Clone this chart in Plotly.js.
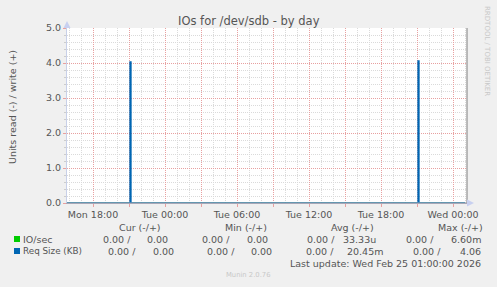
<!DOCTYPE html>
<html>
<head>
<meta charset="utf-8">
<script src="https://cdn.plot.ly/plotly-3.0.1.min.js"></script>
<style>
html,body{margin:0;padding:0;background:#F0F0F0;}
#chart{width:497px;height:287px;}
</style>
</head>
<body>
<div id="chart"></div>
<script>
// ---- data ----
const times = ['2026-02-23 15:50', '2026-02-23 21:05', '2026-02-23 21:10',
               '2026-02-24 21:05', '2026-02-24 21:10', '2026-02-25 01:00'];
const reqSizeWrite = [0, 4.03, 0, 4.06, 0, 0];
const ioSecWrite   = [0, 0.0066, 0, 0.0066, 0, 0];
const xRange = ['2026-02-23 15:50', '2026-02-25 01:10'];
const xTickVals = ['2026-02-23 18:00','2026-02-23 21:00','2026-02-24 00:00','2026-02-24 03:00',
                   '2026-02-24 06:00','2026-02-24 09:00','2026-02-24 12:00','2026-02-24 15:00',
                   '2026-02-24 18:00','2026-02-24 21:00','2026-02-25 00:00'];
const xTickText = ['Mon 18:00','','Tue 00:00','','Tue 06:00','','Tue 12:00','','Tue 18:00','','Wed 00:00'];
const yTickVals = [0,1,2,3,4,5];
const yTickText = ['0.0','1.0','2.0','3.0','4.0','5.0'];
const seriesNames = ['IO/sec', 'Req Size (KB)'];
const seriesColors = ['#00CC00', '#0066B3'];
const colHeaders = ['Cur (-/+)', 'Min (-/+)', 'Avg (-/+)', 'Max (-/+)'];
const ioRead   = ['0.00 /', '0.00 /', '0.00 /', '0.00 /'];
const ioWrite  = ['0.00', '0.00', '33.33u', '6.60m'];
const reqRead  = ['0.00 /', '0.00 /', '0.00 /', '0.00 /'];
const reqWrite = ['0.00', '0.00', '20.45m', '4.06'];
const lastUpdate = 'Last update: Wed Feb 25 01:00:00 2026';

// ---- layout helpers (pixel -> paper) ----
const L = 67, T = 28, W = 400, H = 175;
const px = x => (x - L) / W;
const py = y => (T + H - y) / H;

const font = 'DejaVu Sans, sans-serif';
const txt = '#555555';
const fs = 9.5;
const majorGrid = '#E8A0A0';
const minorGrid = '#DADADA';

const traces = [
  {x: times, y: ioSecWrite, type: 'scatter', mode: 'lines', line: {shape: 'hv', color: seriesColors[0], width: 1}, hoverinfo: 'skip'},
  {x: times, y: reqSizeWrite, type: 'scatter', mode: 'lines', line: {shape: 'hv', color: seriesColors[1], width: 1.3}, hoverinfo: 'skip'},
  // overlay axis carrying the 3-hourly red grid
  {x: xRange, y: [null, null], xaxis: 'x2', yaxis: 'y', type: 'scatter', mode: 'lines', hoverinfo: 'skip', showlegend: false}
];

const ann = [];
function A(text, x, y, xanchor, opts) {
  ann.push(Object.assign({text: text, x: px(x), y: py(y), xref: 'paper', yref: 'paper',
    xanchor: xanchor, yanchor: 'middle', showarrow: false,
    font: {family: font, size: fs, color: txt}}, opts || {}));
}
// title
A('IOs for /dev/sdb - by day', 249, 21, 'center', {font: {family: font, size: 11.5, color: txt}});
// y label
A('Units read (-) / write (+)', 12, 107, 'center', {textangle: -90});
// watermark
A('RRDTOOL / TOBI OETIKER', 487, 51, 'center', {textangle: 90, font: {family: font, size: 7, color: '#C8C8C8'}});
// column headers
const headerCenters = [140, 246, 352, 460];
colHeaders.forEach((h, i) => A(h, headerCenters[i], 227, 'center'));
// series names
A(seriesNames[0], 21, 239, 'left');
A(seriesNames[1], 21, 251, 'left', {font: {family: font, size: 8.8, color: txt}});
// values
const r1ReadEnd = [133, 232, 337, 436], r1WriteEnd = [170, 270, 378, 483];
const r2ReadEnd = [138, 237, 336, 443], r2WriteEnd = [176, 274, 385, 483];
ioRead.forEach((v, i) => A(v, r1ReadEnd[i], 239, 'right'));
ioWrite.forEach((v, i) => A(v, r1WriteEnd[i], 239, 'right'));
reqRead.forEach((v, i) => A(v, r2ReadEnd[i], 251, 'right'));
reqWrite.forEach((v, i) => A(v, r2WriteEnd[i], 251, 'right'));
A(lastUpdate, 483, 263, 'right');
A('Munin 2.0.76', 248, 275, 'center', {font: {family: font, size: 6.8, color: '#C8C8C8'}});

const shapes = [
  {type: 'rect', xref: 'paper', yref: 'paper', x0: px(14), x1: px(20), y0: py(242), y1: py(236), fillcolor: seriesColors[0], line: {width: 0}},
  {type: 'rect', xref: 'paper', yref: 'paper', x0: px(14), x1: px(20), y0: py(254), y1: py(248), fillcolor: seriesColors[1], line: {width: 0}},
  {type: 'line', xref: 'paper', yref: 'y', x0: 0, x1: 1, y0: 0, y1: 0, line: {color: '#A8A8B8', width: 1.2}},
  {type: 'line', xref: 'paper', yref: 'paper', x0: 1, x1: 1, y0: 0, y1: 1, line: {color: '#909090', width: 1.2}},
  {type: 'path', xref: 'paper', yref: 'paper', path: `M ${px(63.5)} ${py(28)} L ${px(70.5)} ${py(28)} L ${px(67)} ${py(21)} Z`, fillcolor: '#C8D0F0', line: {width: 0}},
  {type: 'path', xref: 'paper', yref: 'paper', path: `M ${px(467)} ${py(199.5)} L ${px(467)} ${py(206.5)} L ${px(474)} ${py(203)} Z`, fillcolor: '#C8D0F0', line: {width: 0}}
];

const layout = {
  width: 497, height: 287,
  margin: {l: L, r: 497 - L - W, t: T, b: 287 - T - H, pad: 0},
  paper_bgcolor: '#F0F0F0', plot_bgcolor: '#FFFFFF',
  showlegend: false,
  font: {family: font, size: fs, color: txt},
  xaxis: {
    type: 'date', range: xRange, tickmode: 'array', tickvals: xTickVals, ticktext: xTickText,
    showgrid: false,
    ticks: 'outside', ticklen: 3, tickcolor: majorGrid,
    showline: true, linecolor: '#A8A8B8', linewidth: 1,
    zeroline: false, tickfont: {family: font, size: fs, color: txt},
    minor: {dtick: 3600000, tick0: '2026-02-23 00:00', showgrid: true, gridcolor: minorGrid, griddash: '1px,1px', gridwidth: 1},
    fixedrange: true
  },
  xaxis2: {
    type: 'date', range: xRange, overlaying: 'x', side: 'bottom', tickmode: 'array', tickvals: xTickVals,
    showticklabels: false, ticks: '', showline: false, zeroline: false,
    showgrid: true, gridcolor: majorGrid, griddash: '1px,1px', gridwidth: 1, fixedrange: true
  },
  yaxis: {
    range: [0, 5], tickmode: 'array', tickvals: yTickVals, ticktext: yTickText,
    showgrid: true, gridcolor: majorGrid, griddash: '1px,1px', gridwidth: 1,
    ticks: 'outside', ticklen: 3, tickcolor: majorGrid,
    showline: true, linecolor: '#C8D0E8', linewidth: 1,
    zeroline: false, tickfont: {family: font, size: fs, color: txt},
    minor: {dtick: 0.2, tick0: 0, showgrid: true, gridcolor: minorGrid, griddash: '1px,1px', gridwidth: 1, ticks: 'outside', ticklen: 2, tickcolor: '#CCCCCC'},
    fixedrange: true
  },
  annotations: ann,
  shapes: shapes
};

Plotly.newPlot('chart', traces, layout, {displayModeBar: false, staticPlot: true});
</script>
</body>
</html>
